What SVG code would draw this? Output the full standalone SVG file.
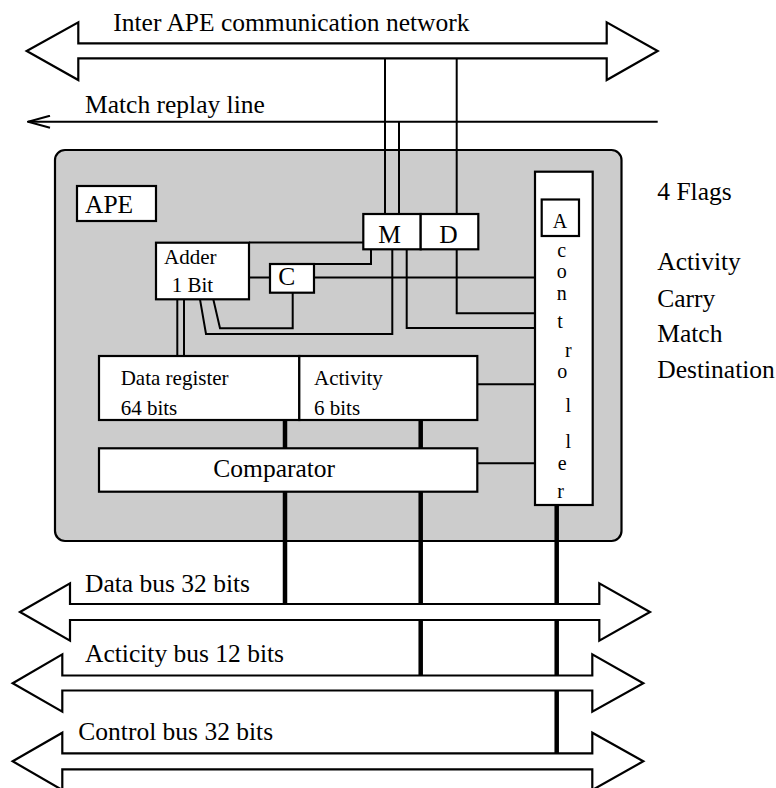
<svg xmlns="http://www.w3.org/2000/svg" width="776" height="788" viewBox="0 0 776 788" font-family="'Liberation Serif', 'Times New Roman', Times, 'DejaVu Serif', serif">
  <style>
    text { font-family: "Liberation Serif", "Times New Roman", Times, "DejaVu Serif", serif; fill: #000; }
    .lg { font-size: 25.5px; }
    .sm { font-size: 21px; }
    .ctl { font-size: 20px; text-anchor: middle; }
    .mid { text-anchor: middle; }
    .box { fill: #fff; stroke: #000; stroke-width: 2.2; }
    .wire { fill: none; stroke: #000; stroke-width: 2; }
    .bus { fill: none; stroke: #000; stroke-width: 4.5; stroke-linecap: round; }
    .pipe { fill: #fff; stroke: #000; stroke-width: 2.2; stroke-linejoin: miter; }
  </style>
  <defs>
    <marker id="openArrow" viewBox="0 0 24 14" refX="23" refY="7" markerWidth="24" markerHeight="14" markerUnits="userSpaceOnUse" orient="auto">
      <path d="M1,1 L23,7 L1,13" fill="none" stroke="#000" stroke-width="2"/>
    </marker>
  </defs>

  <rect width="776" height="788" fill="#fff"/>

  <!-- Inter APE communication network (double arrow) -->
  <g id="network">
    <path class="pipe" d="M26.7,51 L78.3,22.3 L78.3,43.3 L606.7,43.3 L606.7,22.3 L657.7,51 L606.7,80 L606.7,58.3 L78.3,58.3 L78.3,80 Z"/>
    <text class="lg" x="113.3" y="30.7">Inter APE communication network</text>
  </g>

  <!-- Match replay line -->
  <g id="match-line">
    <line class="wire" x1="657.7" y1="121.7" x2="28" y2="121.7" marker-end="url(#openArrow)"/>
    <text class="lg" x="85" y="113.3">Match replay line</text>
  </g>

  <!-- APE enclosure -->
  <g id="ape">
    <rect x="55" y="150" width="566.5" height="391" rx="10" ry="10" fill="#cccccc" stroke="#000" stroke-width="2.2"/>
    <rect class="box" x="77" y="186" width="79" height="35"/>
    <text class="lg" x="85" y="213.3">APE</text>
  </g>

  <!-- Connectors -->
  <g id="connectors">
    <!-- network / match line to M and D -->
    <line class="wire" x1="385" y1="58.3" x2="385" y2="214"/>
    <line class="wire" x1="399" y1="121.7" x2="399" y2="214"/>
    <line class="wire" x1="456.7" y1="58.3" x2="456.7" y2="214"/>
    <!-- adder / carry / M / D wiring -->
    <line class="wire" x1="249" y1="242.5" x2="363.3" y2="242.5"/>
    <polyline class="wire" points="371,249.3 371,264 314,264"/>
    <line class="wire" x1="249" y1="277.5" x2="270" y2="277.5"/>
    <line class="wire" x1="314" y1="277.5" x2="535" y2="277.5"/>
    <polyline class="wire" points="213.3,299.3 220,328.3 292.7,328.3 292.7,292.7"/>
    <polyline class="wire" points="200,299.3 206,334 392.3,334 392.3,249.3"/>
    <polyline class="wire" points="406.7,249.3 406.7,328 535,328"/>
    <polyline class="wire" points="456.7,249.3 456.7,313.3 535,313.3"/>
    <!-- adder to data register -->
    <line class="wire" x1="177.3" y1="299.3" x2="177.3" y2="356"/>
    <line class="wire" x1="184" y1="299.3" x2="184" y2="356"/>
    <!-- registers / comparator to controller -->
    <line class="wire" x1="477.3" y1="384.3" x2="535" y2="384.3"/>
    <line class="wire" x1="477.3" y1="463.3" x2="535" y2="463.3"/>
    <!-- thick bus taps -->
    <line class="bus" x1="285" y1="420" x2="285" y2="448.3"/>
    <line class="bus" x1="285" y1="491.7" x2="285" y2="604"/>
    <line class="bus" x1="420.7" y1="420" x2="420.7" y2="448.3"/>
    <line class="bus" x1="420.7" y1="491.7" x2="420.7" y2="604"/>
    <line class="bus" x1="420.7" y1="620" x2="420.7" y2="675.5"/>
    <line class="bus" x1="556.7" y1="505" x2="556.7" y2="604"/>
    <line class="bus" x1="556.7" y1="620" x2="556.7" y2="675.5"/>
    <line class="bus" x1="556.7" y1="690.5" x2="556.7" y2="753.3"/>
  </g>

  <!-- Adder 1 Bit -->
  <g id="adder">
    <rect class="box" x="156" y="242.7" width="93" height="56.6"/>
    <text class="sm" x="164" y="264">Adder</text>
    <text class="sm" x="171.7" y="291.7">1 Bit</text>
  </g>

  <!-- Carry flag -->
  <g id="carry">
    <rect class="box" x="270" y="264" width="44" height="28.7"/>
    <text class="lg mid" x="286.7" y="285">C</text>
  </g>

  <!-- Match flag -->
  <g id="match-flag">
    <rect class="box" x="363.3" y="214" width="57.4" height="35.3"/>
    <text class="lg mid" x="389.5" y="242.5">M</text>
  </g>

  <!-- Destination flag -->
  <g id="dest-flag">
    <rect class="box" x="420.7" y="214" width="57.6" height="35.3"/>
    <text class="lg mid" x="448.5" y="242.5">D</text>
  </g>

  <!-- Data register -->
  <g id="data-register">
    <rect class="box" x="99" y="356" width="200.3" height="64"/>
    <text class="sm" x="120.7" y="385">Data register</text>
    <text class="sm" x="120.7" y="415">64 bits</text>
  </g>

  <!-- Activity register -->
  <g id="activity-register">
    <rect class="box" x="299.3" y="356" width="178" height="64"/>
    <text class="sm" x="314" y="385">Activity</text>
    <text class="sm" x="314" y="415">6 bits</text>
  </g>

  <!-- Comparator -->
  <g id="comparator">
    <rect class="box" x="99" y="448.3" width="378.3" height="43.4"/>
    <text class="lg" x="213.3" y="477">Comparator</text>
  </g>

  <!-- Controller with activity flag -->
  <g id="controller">
    <rect class="box" x="535" y="171.7" width="57.7" height="333.3"/>
    <rect class="box" x="541.7" y="199.5" width="37.3" height="36.5"/>
    <text class="ctl" x="560" y="228.3" font-size="24">A</text>
    <text class="ctl" x="561.7" y="256.7">c</text>
    <text class="ctl" x="561.7" y="278.3">o</text>
    <text class="ctl" x="561.7" y="300">n</text>
    <text class="ctl" x="560" y="328.3">t</text>
    <text class="ctl" x="568.3" y="356.7">r</text>
    <text class="ctl" x="562.3" y="378.3">o</text>
    <text class="ctl" x="568.3" y="411.7">l</text>
    <text class="ctl" x="568.3" y="448.3">l</text>
    <text class="ctl" x="562.3" y="470">e</text>
    <text class="ctl" x="560.7" y="498.3">r</text>
  </g>

  <!-- Flag legend -->
  <g id="flags-legend">
    <text class="lg" x="657.3" y="200">4 Flags</text>
    <text class="lg" x="657.3" y="270">Activity</text>
    <text class="lg" x="657.3" y="306.7">Carry</text>
    <text class="lg" x="657.3" y="341.7">Match</text>
    <text class="lg" x="657.3" y="378.3">Destination</text>
  </g>

  <!-- Data bus -->
  <g id="data-bus">
    <path class="pipe" d="M20,612 L70,583.3 L70,604 L599.3,604 L599.3,583.3 L650,612 L599.3,640.7 L599.3,620 L70,620 L70,640.7 Z"/>
    <text class="lg" x="85" y="591.7">Data bus 32 bits</text>
  </g>

  <!-- Activity bus -->
  <g id="activity-bus">
    <path class="pipe" d="M12.7,683.3 L62.3,654.3 L62.3,675.5 L592.3,675.5 L592.3,654.3 L643.3,683.3 L592.3,711.7 L592.3,690.5 L62.3,690.5 L62.3,711.7 Z"/>
    <text class="lg" x="85" y="661.7">Acticity bus 12 bits</text>
  </g>

  <!-- Control bus -->
  <g id="control-bus">
    <path class="pipe" d="M12.7,761.3 L62.3,732.7 L62.3,753.3 L592.3,753.3 L592.3,732.7 L643.3,761.3 L592.3,790 L592.3,769.3 L62.3,769.3 L62.3,790 Z"/>
    <text class="lg" x="78.3" y="740">Control bus 32 bits</text>
  </g>
</svg>
